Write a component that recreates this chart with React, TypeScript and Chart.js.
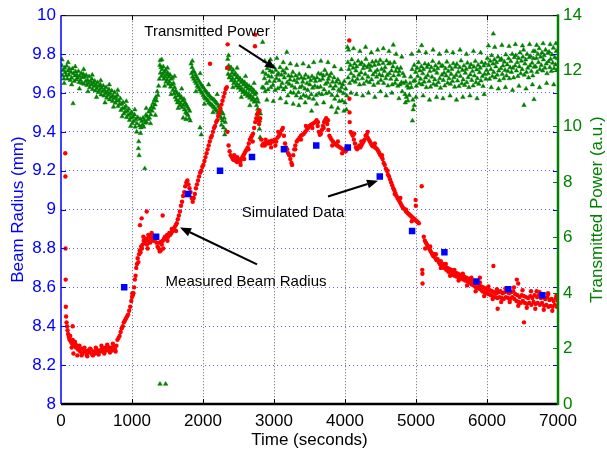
import React, { useEffect, useRef } from "react";
import { Chart, registerables } from "chart.js";

Chart.register(...registerables);

// ---------- DATA ----------
const timeTicks = [0, 1000, 2000, 3000, 4000, 5000, 6000, 7000];
const radiusTicks = [8, 8.2, 8.4, 8.6, 8.8, 9, 9.2, 9.4, 9.6, 9.8, 10];
const powerTicks = [0, 2, 4, 6, 8, 10, 12, 14];

const simulatedTimes = [890, 1340, 1790, 2240, 2690, 3140, 3595, 4040, 4490, 4945, 5400, 5850, 6300, 6780];
const simulatedRadius = [8.60, 8.86, 9.08, 9.20, 9.27, 9.31, 9.33, 9.32, 9.17, 8.89, 8.78, 8.63, 8.59, 8.56];

const measuredRadius: [number, number][] = [
  [60,9.29],[62,9.17],[64,8.80],[66,8.64],[68,8.50],
  [72,8.45],[78,8.42],[85,8.40],[92,8.38],[100,8.36],[110,8.345],[120,8.33],[130,8.35],[140,8.32],[155,8.31],[165,8.33],[165,8.40],[180,8.30],[195,8.32],[210,8.29],[225,8.30],[240,8.28],[255,8.295],[270,8.27],[285,8.285],[300,8.26],[320,8.28],[340,8.27],[360,8.255],[380,8.275],[400,8.265],[420,8.28],[440,8.255],[460,8.27],[480,8.26],[500,8.28],[520,8.265],[540,8.275],[560,8.27],[580,8.285],[600,8.27],[620,8.29],[640,8.275],[660,8.295],[680,8.28],[700,8.29],[720,8.275],[740,8.295],[760,8.28],[780,8.30],
  [150,8.29],[175,8.26],[200,8.31],[230,8.25],[260,8.30],[290,8.25],[330,8.29],[370,8.245],[410,8.285],[450,8.25],[490,8.29],[530,8.255],[570,8.30],[610,8.26],[650,8.305],[690,8.265],[730,8.31],[770,8.27],
  [795,8.33],[810,8.34],[825,8.35],[840,8.37],[855,8.39],[870,8.40],[885,8.42],[900,8.43],[915,8.44],[930,8.45],[945,8.46],[960,8.48],[975,8.50],[990,8.53],[1000,8.55],[1005,8.57],[1010,8.56],[1020,8.57],[1030,8.60],[1040,8.64],[1050,8.66],[1060,8.70],[1070,8.72],[1080,8.75],[1090,8.73],[1100,8.77],[1110,8.79],[1113,8.92],[1120,8.78],[1130,8.81],[1136,8.955],[1140,8.80],[1150,8.82],[1165,8.84],[1180,8.83],[1195,8.85],[1207,8.99],[1210,8.82],[1225,8.84],[1230,8.87],[1240,8.86],[1255,8.83],[1270,8.85],[1277,8.88],[1285,8.87],[1300,8.84],[1315,8.86],[1330,8.85],[1345,8.83],[1360,8.81],[1375,8.80],[1390,8.785],[1405,8.79],[1410,8.835],[1420,8.82],[1432,8.97],[1435,8.84],[1450,8.85],[1465,8.86],[1480,8.85],[1495,8.87],[1510,8.86],[1525,8.88],[1540,8.87],[1555,8.88],[1570,8.89],[1585,8.90],[1600,8.91],[1615,8.92],[1630,8.93],[1645,8.95],[1660,8.97],[1675,8.99],[1690,9.02],[1705,9.04],[1720,9.07],[1735,9.09],[1750,9.12],[1765,9.14],[1780,9.15],[1795,9.13],[1810,9.11],[1825,9.09],[1840,9.06],[1855,9.04],[1870,9.06],[1885,9.08],[1900,9.11],[1915,9.13],[1930,9.15],[1945,9.17],[1960,9.19],[1975,9.20],[1990,9.22],[2005,9.23],[2020,9.25],[2035,9.27],[2050,9.29],[2065,9.31],[2080,9.33],[2095,9.35],[2099,9.75],[2110,9.37],[2125,9.38],[2140,9.40],[2155,9.42],[2170,9.43],[2185,9.45],[2200,9.46],[2215,9.48],[2230,9.50],[2245,9.52],[2260,9.54],[2275,9.56],[2290,9.58],[2305,9.60],[2320,9.62],[2335,9.63],[2342,9.73],[2347,9.85],
  [1160,8.86],[1220,8.80],[1260,8.87],[1350,8.86],[1380,8.83],[1440,8.80],[1500,8.84],[1560,8.90],[1620,8.89],
  [2345,9.40],[2360,9.33],[2375,9.30],[2390,9.28],[2405,9.27],[2420,9.26],[2435,9.255],[2450,9.26],[2465,9.25],[2480,9.245],[2495,9.26],[2510,9.25],[2525,9.245],[2540,9.26],[2555,9.27],[2570,9.28],[2585,9.29],[2600,9.30],[2615,9.31],[2630,9.32],[2645,9.34],[2660,9.36],[2675,9.37],[2690,9.38],[2705,9.39],[2720,9.42],[2732,9.84],[2735,9.45],[2736,9.90],[2750,9.47],[2765,9.49],[2780,9.50],[2785,9.46],[2790,9.44],[2795,9.51],[2805,9.47],
  [2440,9.28],[2480,9.27],[2530,9.23],[2580,9.26],[2640,9.31],[2700,9.35],
  [2820,9.36],[2835,9.33],[2850,9.34],[2870,9.33],[2890,9.345],[2910,9.34],[2930,9.35],[2950,9.34],[2970,9.355],[2990,9.35],[3010,9.36],[3030,9.35],[3050,9.37],[3070,9.38],[3090,9.39],[3110,9.41],[3125,9.42],[3140,9.38],[3155,9.34],[3170,9.32],[3185,9.31],[3200,9.29],[3215,9.28],[3230,9.26],[3245,9.24],[3255,9.23],[3270,9.28],[3285,9.31],[3300,9.33],[3320,9.35],[3340,9.36],[3360,9.37],[3380,9.38],[3400,9.385],[3420,9.39],[3440,9.40],[3460,9.41],[3480,9.42],[3500,9.43],[3520,9.435],[3540,9.44],[3560,9.445],[3580,9.45],[3600,9.46],[3615,9.43],[3630,9.40],[3645,9.385],[3660,9.39],[3675,9.41],[3690,9.43],[3705,9.45],[3720,9.46],[3735,9.47],[3750,9.44],[3765,9.41],[3780,9.38],[3795,9.37],[3810,9.36],[3830,9.35],[3850,9.34],[3870,9.335],[3890,9.33],[3910,9.325],[3930,9.32],[3950,9.315],[3970,9.31],[3990,9.305],[4010,9.30],[4030,9.31],[4050,9.32],
  [2880,9.36],[2960,9.32],[3020,9.33],[3060,9.40],[3300,9.31],[3380,9.36],[3450,9.43],[3540,9.42],[3620,9.45],[3700,9.42],[3760,9.46],[3820,9.33],[3900,9.35],[3960,9.29],[4020,9.32],
  [4060,9.87],[4062,9.57],[4064,9.50],[4066,9.45],
  [4080,9.40],[4095,9.39],[4110,9.38],[4125,9.36],[4140,9.34],[4155,9.32],[4170,9.31],[4185,9.32],[4200,9.33],[4215,9.32],[4230,9.33],[4245,9.34],[4260,9.35],[4275,9.36],[4290,9.38],[4305,9.385],[4320,9.37],[4335,9.36],[4350,9.35],[4365,9.34],[4380,9.33],[4395,9.325],[4410,9.33],[4425,9.32],[4440,9.315],[4455,9.31],[4470,9.30],[4485,9.29],[4500,9.28],[4515,9.27],[4530,9.26],[4545,9.24],[4560,9.23],[4575,9.21],[4590,9.20],[4605,9.18],[4620,9.17],[4635,9.155],[4650,9.14],[4665,9.125],[4680,9.11],[4695,9.10],[4710,9.085],[4725,9.07],[4740,9.06],[4755,9.05],[4770,9.04],[4785,9.03],[4800,9.02],[4815,9.01],[4830,9.005],[4845,9.00],[4860,8.99],[4875,8.985],[4890,8.98],[4905,8.975],[4920,8.97],[4935,8.965],[4950,8.96],[4965,8.955],[4980,8.95],[4995,8.945],[5010,8.94],[5025,8.935],[5040,8.93],
  [4130,9.39],[4230,9.35],[4320,9.40],[4420,9.34],[4520,9.28],[4600,9.20],[4700,9.08],[4780,9.06],[4860,9.00],[4940,8.94],
  [4995,9.05],[4998,9.02],[5080,9.12],[5088,8.69],[5090,8.67],[5092,8.62],
  [5110,8.86],[5125,8.84],[5140,8.83],[5155,8.82],[5170,8.81],[5185,8.80],[5200,8.79],[5215,8.78],[5230,8.77],[5245,8.76],[5260,8.77],[5275,8.75],[5290,8.74],[5305,8.745],[5320,8.73],[5335,8.72],[5350,8.735],[5365,8.71],[5380,8.72],[5395,8.70],[5410,8.71],[5425,8.69],[5440,8.70],[5455,8.68],[5470,8.695],[5485,8.675],[5500,8.69],[5515,8.665],[5530,8.68],[5545,8.66],[5560,8.675],[5575,8.655],[5590,8.67],[5605,8.65],[5620,8.665],[5635,8.645],[5650,8.66],[5665,8.64],[5680,8.655],[5695,8.635],[5710,8.65],[5725,8.63],[5740,8.645],[5755,8.625],[5770,8.64],[5785,8.615],[5800,8.63],[5815,8.61],[5830,8.625],[5845,8.60],[5860,8.62],[5875,8.595],[5890,8.61],[5900,8.65],[5905,8.59],[5920,8.605],[5935,8.58],[5950,8.60],[5965,8.575],[5980,8.595],[5995,8.57],[6010,8.59],[6025,8.565],[6040,8.585],[6055,8.56],[6070,8.58],[6085,8.555],[6090,8.71],[6100,8.575],[6115,8.55],[6130,8.57],[6145,8.545],[6150,8.49],[6160,8.575],[6175,8.55],[6190,8.58],[6205,8.545],[6220,8.57],[6235,8.54],[6250,8.575],[6265,8.55],[6280,8.58],[6295,8.545],[6310,8.57],[6325,8.54],[6340,8.575],[6355,8.55],[6370,8.58],[6385,8.54],[6400,8.565],[6415,8.53],[6420,8.64],[6430,8.56],[6440,8.62],[6445,8.525],[6460,8.55],[6475,8.52],[6490,8.56],[6505,8.53],[6520,8.555],[6521,8.42],[6535,8.52],[6550,8.55],[6565,8.515],[6580,8.545],[6595,8.52],[6610,8.555],[6625,8.51],[6640,8.545],[6655,8.525],[6670,8.56],[6685,8.515],[6700,8.58],[6705,8.55],[6715,8.52],[6730,8.56],[6745,8.51],[6760,8.545],[6775,8.52],[6790,8.55],[6805,8.505],[6820,8.54],[6835,8.51],[6850,8.55],[6860,8.57],[6865,8.50],[6880,8.535],[6895,8.505],[6910,8.54],[6925,8.50],[6940,8.53],[6955,8.51],[6970,8.545],[6985,8.50],[7000,8.53],
  [5130,8.80],[5200,8.81],[5280,8.77],[5350,8.70],[5420,8.72],[5480,8.66],[5540,8.69],[5600,8.635],[5660,8.67],[5720,8.61],[5780,8.65],[5840,8.58],[5900,8.625],[5960,8.555],[6020,8.605],[6080,8.54],[6140,8.59],[6200,8.525],[6260,8.595],[6320,8.525],[6380,8.60],[6440,8.505],[6500,8.585],[6560,8.495],[6620,8.58],[6680,8.49],[6740,8.575],[6800,8.485],[6860,8.565],[6920,8.48],[6980,8.56]
];

const transmittedPower: [number, number][] = [
  [10,12.19],[20,11.83],[30,12.02],[40,11.71],[50,12.10],[60,11.94],[70,11.83],[80,12.17],[90,11.71],[100,12.00],[110,11.85],[120,12.07],[130,11.66],[140,11.95],[150,11.74],[160,12.07],[170,10.82],[175,11.9],[185,11.62],[195,11.82],[205,11.97],[215,11.68],[225,11.85],[235,11.74],[245,11.98],[255,11.58],[265,11.80],[275,11.66],[285,11.91],[295,11.55],[305,11.76],[315,11.88],[325,11.52],[335,11.78],[345,11.62],[355,11.84],[365,11.48],[375,11.66],[385,11.55],[395,11.79],[405,11.40],[415,11.62],[425,11.50],[435,11.70],[445,11.33],[455,11.56],[465,11.44],[475,11.63],[485,11.28],[495,11.48],[505,11.36],[515,11.58],[525,11.22],[535,11.44],[545,11.30],[555,11.50],[565,11.14],[575,11.38],[585,11.25],[595,11.46],[605,11.10],[615,11.30],[625,11.18],[635,11.40],[645,11.02],[655,11.24],[665,11.12],[675,11.33],[685,10.96],[695,11.18],[705,11.05],[715,11.28],[725,10.90],[735,11.10],[745,11.00],[755,11.22],[765,10.84],[775,11.05],[785,10.92],[795,11.12],[805,10.72],[815,10.92],[825,10.80],[835,11.00],[845,10.58],[855,10.80],[865,10.64],[875,10.86],[885,10.45],[895,10.66],[905,10.52],[915,10.72],[925,10.32],[935,10.55],[945,10.40],[955,10.62],[965,10.22],[975,10.44],[985,10.30],[995,10.50],[1005,10.10],[1015,10.34],[1025,10.18],[1035,10.42],[1045,9.98],[1055,10.25],[1066,9.80],[1070,10.10],[1080,10.32],[1090,9.20],[1095,9.45],[1100,8.95],[1105,10.02],[1115,10.26],[1125,9.95],[1135,10.18],[1145,10.05],[1155,10.30],[1165,9.98],[1175,10.22],[1180,8.48],[1185,10.12],[1195,10.40],[1205,10.15],[1215,10.35],[1225,10.25],[1235,10.52],[1245,10.30],[1255,10.60],[1265,10.42],[1275,10.70],[1285,10.55],[1295,10.82],[1305,10.66],[1315,10.95],[1325,10.78],[1335,11.05],[1345,10.92],[1355,11.25],[1365,11.12],[1375,11.45],[1385,11.70],
  [15,12.40],[45,11.55],[100,12.30],[150,11.50],[200,12.15],[260,11.35],[320,12.05],[380,11.25],[440,11.85],[500,11.05],[560,11.65],[620,10.85],[680,11.50],[740,10.70],[800,11.30],[860,10.35],[920,10.90],[980,10.00],[1040,10.60],[1120,9.75],[1200,10.65],[1260,10.10],[1330,10.40],
  [1392,12.20],[1396,12.37],[1400,11.92],[1408,12.12],[1416,11.80],[1424,12.05],[1432,11.88],[1440,12.15],[1448,11.70],[1456,11.95],[1464,11.78],[1472,12.02],[1480,11.60],[1488,11.85],[1496,11.68],[1504,11.92],[1512,11.52],[1520,11.78],[1528,11.60],[1536,11.85],[1544,11.42],[1552,11.70],[1560,11.50],[1568,11.74],[1576,11.30],[1584,11.55],[1592,11.18],[1600,11.40],[1608,11.05],[1616,11.28],[1624,10.95],[1632,11.20],[1640,10.85],[1648,11.10],[1656,10.90],[1664,11.15],[1672,10.75],[1680,11.00],[1688,10.82],[1696,11.05],[1704,10.68],[1712,10.92],[1720,10.30],[1724,10.75],[1732,10.98],[1740,10.60],[1748,10.85],[1756,10.50],[1764,10.78],[1772,10.45],[1780,10.70],[1788,10.40],[1796,10.62],[1804,10.28],[1812,10.55],[1820,10.20],
  [1420,12.40],[1460,11.45],[1500,12.10],[1550,11.15],[1600,11.80],[1650,10.65],[1700,11.35],[1760,10.25],
  [1832,12.25],[1838,11.90],[1846,12.12],[1854,11.78],[1862,12.00],[1870,11.70],[1878,11.95],[1886,11.62],[1894,11.85],[1902,11.55],[1910,11.78],[1918,11.45],[1926,11.70],[1934,11.40],[1942,11.62],[1950,11.32],[1958,9.95],[1962,11.55],[1970,11.25],[1975,9.70],[1978,11.48],[1986,11.20],[1994,11.42],[2002,11.12],[2010,11.38],[2018,11.05],[2026,11.30],[2034,11.00],[2042,11.25],[2050,10.98],[2058,11.20],[2066,10.92],[2074,11.15],[2082,10.85],[2090,11.10],[2098,10.82],[2106,11.05],[2114,10.78],[2122,11.00],[2130,10.75],[2138,10.98],[2146,10.70],[2154,10.95],[2162,10.66],[2170,10.90],[2178,10.60],[2186,10.85],[2194,10.55],[2202,10.80],[2210,10.48],[2218,10.72],[2226,10.42],[2234,10.65],[2242,10.35],[2250,10.58],[2258,10.28],[2266,10.50],[2274,10.20],[2282,10.45],[2290,9.95],[2298,10.30],[2306,9.70],[2314,10.15],[2322,9.85],
  [1850,12.35],[1900,11.25],[1960,11.90],[2020,10.80],[2080,11.50],[2140,10.50],[2200,11.15],[2260,10.05],
  [2342,12.10],[2348,12.42],[2354,11.88],[2362,12.18],[2370,11.75],[2378,12.05],[2386,11.82],[2394,12.12],[2402,11.65],[2410,11.92],[2418,11.72],[2426,12.02],[2434,11.55],[2442,11.85],[2450,11.62],[2458,11.90],[2466,11.45],[2474,11.75],[2482,11.52],[2490,11.80],[2498,11.38],[2506,11.66],[2514,11.45],[2522,11.72],[2530,11.30],[2538,11.58],[2546,11.36],[2554,11.64],[2562,11.22],[2570,11.50],[2578,11.28],[2586,11.58],[2594,11.15],[2602,11.42],[2610,11.22],[2618,11.50],[2626,11.08],[2634,11.35],[2642,11.15],[2650,11.45],[2658,11.02],[2666,11.30],[2674,11.10],[2682,11.38],[2690,10.95],[2698,11.22],[2706,11.02],[2714,11.30],[2722,10.88],[2730,11.15],[2738,10.92],[2746,11.20],[2754,10.75],[2762,11.00],[2770,10.62],[2778,10.88],[2784,10.30],[2790,10.55],[2795,9.90],[2800,10.20],[2805,9.60],[2810,10.45],
  [2360,12.55],[2420,11.40],[2480,12.10],[2540,11.05],[2600,11.80],[2660,10.75],[2720,11.55],[2760,10.45],
  [2835,11.40],[2840,13.03],[2845,11.95],[2855,11.38],[2865,11.72],[2875,11.25],[2885,11.88],[2895,11.55],[2905,12.08],[2915,11.32],[2925,11.80],[2935,11.62],[2945,12.00],[2955,11.40],[2965,11.78],[2975,11.95],[2985,11.48],[2995,12.15],[3005,11.62],[3015,11.30],[3025,12.02],[3035,11.72],[3045,11.85],[3055,11.36],[3065,11.90],[3075,11.65],[3085,12.12],[3095,11.42],[3105,11.85],[3115,11.55],[3125,12.00],[3135,11.32],[3145,11.75],[3155,11.92],[3165,11.40],[3175,12.08],[3180,12.67],[3185,11.58],[3195,11.10],[3205,11.82],[3215,11.52],[3225,11.68],[3235,11.22],[3245,11.80],[3255,11.45],[3265,11.95],[3275,11.20],[3285,11.65],[3295,11.38],[3305,11.82],[3315,11.10],[3325,11.58],[3335,11.72],[3345,11.22],[3355,11.88],[3365,11.40],[3375,11.02],[3385,11.75],[3395,11.44],[3405,11.60],[3415,11.12],[3425,11.72],[3435,11.35],[3445,11.85],[3455,11.08],[3465,11.55],[3475,11.30],[3485,11.76],[3495,11.02],[3505,11.50],[3515,11.65],[3525,11.15],[3530,10.55],[3535,11.80],[3545,11.38],[3555,10.98],[3565,11.72],[3575,11.45],[3585,11.62],[3595,11.12],[3605,11.75],[3615,11.40],[3625,11.90],[3635,11.18],[3645,11.65],[3655,11.42],[3665,11.88],[3675,11.15],[3685,11.70],[3695,11.82],[3705,11.32],[3715,12.02],[3725,11.52],[3735,11.18],[3745,11.88],[3755,11.58],[3765,11.70],[3775,11.22],[3785,11.80],[3795,11.45],[3805,11.90],[3815,11.12],[3825,11.60],[3835,11.35],[3845,11.75],[3855,10.98],[3865,11.45],[3875,10.50],[3880,11.60],[3890,11.10],[3900,11.68],[3910,11.30],[3920,10.90],[3930,11.55],[3940,11.25],[3950,11.40],[3960,10.92],[3970,11.50],[3980,11.18],[3990,11.62],[4000,10.85],[4010,11.35],[4020,10.60],[4025,11.10],
  [2870,12.35],[2900,10.95],[2950,12.40],[2990,10.90],[3040,12.45],[3090,11.00],[3130,12.30],[3170,10.85],[3230,12.25],[3270,10.80],[3320,12.20],[3350,10.75],[3410,12.25],[3440,10.85],[3490,12.15],[3560,12.30],[3600,10.80],[3660,12.35],[3700,10.85],[3760,12.30],[3810,10.70],[3850,12.15],[3900,10.65],[3945,12.05],[3985,10.55],
  [4035,12.85],[4040,12.30],[4045,11.75],[4055,12.05],[4065,11.55],[4075,12.20],[4085,11.90],[4095,12.40],[4105,11.65],[4115,12.10],[4125,11.80],[4135,12.25],[4145,11.60],[4155,12.00],[4165,12.15],[4175,11.70],[4185,12.35],[4195,11.85],[4205,11.50],[4215,12.23],[4225,11.93],
  [4235,12.28],[4245,11.72],[4255,12.08],[4265,11.52],[4275,12.18],[4285,11.88],[4295,12.42],[4305,11.62],[4315,12.12],[4325,11.78],[4335,12.22],[4345,11.58],[4355,12.02],[4365,12.16],[4375,11.68],[4385,12.32],[4395,11.86],[4405,11.48],[4415,12.20],[4425,11.95],
  [4435,12.34],[4445,11.78],[4455,12.02],[4465,11.56],[4475,12.24],[4485,11.86],[4495,12.38],[4505,11.66],[4515,12.06],[4525,11.82],[4535,12.27],[4545,11.55],[4555,11.98],[4565,12.12],[4575,11.72],[4585,12.36],[4595,11.84],[4605,11.46],[4615,12.25],[4625,11.90],
  [4635,12.28],[4645,11.70],[4655,12.00],[4665,11.50],[4675,12.15],[4680,12.93],[4685,11.82],[4695,12.30],[4705,11.55],[4715,11.98],[4725,11.68],[4735,12.10],[4745,11.45],[4755,11.85],[4765,11.98],[4775,11.50],[4785,12.10],[4795,11.58],[4805,11.25],[4815,11.90],[4825,11.55],[4835,11.80],[4845,11.15],[4855,11.60],[4865,11.05],[4875,11.45],[4885,10.92],[4895,11.38],[4905,11.12],[4915,11.55],
  [4050,12.75],[4085,11.20],[4120,12.80],[4160,11.15],[4210,12.70],[4250,11.10],[4290,12.85],[4330,11.20],[4370,12.65],[4420,11.05],[4460,12.75],[4500,11.25],[4540,12.80],[4580,11.10],[4620,12.70],[4660,11.20],[4720,12.60],[4760,11.00],[4800,12.50],[4850,10.85],
  [4950,10.2],[4955,10.95],[4960,10.6],[4975,10.75],
  [4925,11.78],[4935,11.40],[4945,12.05],[4965,11.62],[4975,12.20],[4985,11.65],[4995,11.95],[5005,11.45],[5015,12.10],[5025,11.80],[5035,12.30],[5045,11.55],[5055,12.00],[5065,11.70],[5075,12.15],[5080,12.91],[5085,11.50],[5095,11.90],[5105,12.05],[5115,11.60],[5125,12.25],[5135,11.75],[5145,11.40],[5155,12.13],[5165,11.83],
  [5175,12.22],[5185,11.62],[5195,11.98],[5205,11.42],[5215,12.12],[5225,11.78],[5235,12.34],[5245,11.52],[5255,12.02],[5265,11.68],[5275,12.18],[5285,11.48],[5295,11.92],[5305,12.08],[5315,11.58],[5325,12.28],[5335,11.72],[5345,11.38],[5355,12.16],[5365,11.85],
  [5375,12.18],[5385,11.66],[5395,11.92],[5405,11.46],[5415,12.08],[5425,11.82],[5435,12.32],[5445,11.56],[5455,11.98],[5465,11.72],[5475,12.16],[5485,11.52],[5495,11.88],[5505,12.06],[5515,11.62],[5525,12.26],[5535,11.76],[5545,11.42],[5555,12.14],[5565,11.84],
  [5575,12.24],[5585,11.64],[5595,11.96],[5605,11.44],[5615,12.12],[5625,11.80],[5635,12.36],[5645,11.54],[5655,12.02],[5665,11.68],[5675,12.18],[5685,11.48],[5695,11.92],[5705,12.06],[5715,11.58],[5725,12.28],[5735,11.76],[5745,11.40],[5755,12.12],[5765,11.86],
  [5775,12.22],[5785,11.66],[5795,11.98],[5805,11.46],[5815,12.14],[5825,11.82],[5835,12.34],[5845,11.58],[5855,12.04],[5865,11.72],[5875,12.20],[5885,11.52],[5895,11.94],[5905,12.10],[5915,11.64],[5925,12.30],[5935,11.80],[5945,11.44],[5955,12.18],[5965,11.88],[5975,12.26],[5985,11.70],[5995,12.02],
  [4940,12.60],[5000,11.05],[5040,12.70],[5100,11.10],[5140,12.65],[5190,10.95],[5240,12.75],[5290,11.05],[5330,12.60],[5380,11.00],[5430,12.70],[5480,11.10],[5520,12.65],[5570,10.95],[5620,12.75],[5660,11.05],[5710,12.60],[5760,11.10],[5810,12.70],[5860,11.00],[5910,12.65],[5960,11.15],
  [6005,12.45],[6015,11.90],[6025,12.20],[6035,11.70],[6045,12.35],[6055,12.05],[6065,12.55],[6075,11.80],[6085,12.25],[6089,13.33],[6095,11.95],[6105,12.40],[6115,11.75],[6125,12.15],[6135,12.30],[6145,11.85],[6155,12.50],[6165,12.00],[6175,11.65],[6185,12.38],[6195,12.08],
  [6205,12.42],[6215,11.88],[6225,12.18],[6235,11.72],[6245,12.32],[6255,12.02],[6265,12.58],[6275,11.82],[6285,12.22],[6295,11.98],[6305,12.44],[6315,11.72],[6325,12.12],[6335,12.34],
  [6345,11.95],[6355,12.60],[6365,12.10],[6375,11.75],[6385,12.48],[6395,12.18],[6405,12.55],[6415,12.00],[6425,12.30],[6435,11.80],[6445,12.45],[6455,12.15],[6465,12.65],[6475,11.90],[6485,12.35],[6495,12.05],[6505,12.50],[6515,12.75],[6521,10.76],[6525,11.85],[6535,12.25],[6545,12.40],[6555,11.95],[6565,12.60],[6575,12.10],[6585,11.75],[6595,12.48],[6605,12.18],[6615,12.52],[6625,11.98],[6635,12.28],[6645,11.82],[6650,12.70],[6655,12.44],[6662,10.97],[6665,12.14],
  [6675,12.70],[6685,12.15],[6695,12.45],[6705,11.95],[6715,12.60],[6725,12.30],[6735,12.80],[6745,12.05],[6755,12.50],[6765,12.20],[6775,12.65],[6785,12.00],[6795,12.40],[6805,12.55],[6815,12.10],[6825,12.75],[6835,12.25],[6845,11.90],[6855,12.63],[6865,12.33],[6875,12.68],[6885,12.12],[6895,12.42],[6905,11.98],[6915,12.58],[6925,12.28],[6935,12.82],[6945,12.08],[6955,12.48],[6965,12.22],[6975,12.70],[6985,12.02],[6995,12.45],
  [6020,12.90],[6060,11.40],[6110,12.85],[6160,11.35],[6210,12.92],[6260,11.40],[6310,12.88],[6360,11.30],[6400,12.95],[6450,11.45],[6500,12.90],[6550,11.35],[6600,12.95],[6640,11.50],[6700,12.92],[6740,11.40],[6790,12.98],[6840,11.55],[6890,12.95],[6940,11.50],[6970,12.98],
  [1394,0.72],[1474,0.72]
];

// annotations: label, text anchor (time, radius), arrow start and tip (time, radius)
const annotationLabels = ["Transmitted Power", "Simulated Data", "Measured Beam Radius"];
const annotationText: [number, number][] = [[2056, 9.913], [3268, 8.985], [2606, 8.63]];
const arrowFrom: [number, number][] = [[2507, 9.846], [3761, 9.067], [2761, 8.718]];
const arrowTo: [number, number][] = [[3028, 9.723], [4465, 9.149], [1676, 8.908]];

const FONT = "'Liberation Sans', Arial, Helvetica, sans-serif";
const BLUE = "#0000ff";
const GREEN = "#008000";

const overlayPlugin = {
  id: "overlay",
  afterDatasetsDraw(chart: any) {
    const { ctx, chartArea: a, scales } = chart;
    const x = scales.x, y = scales.y, y1 = scales.y1;
    ctx.save();
    ctx.setLineDash([]);
    // tick marks (inward)
    ctx.lineWidth = 1;
    ctx.strokeStyle = "#000";
    timeTicks.forEach((t) => {
      if (t === 0 || t === 7000) return;
      const px = Math.round(x.getPixelForValue(t)) + 0.5;
      ctx.beginPath();
      ctx.moveTo(px, a.bottom); ctx.lineTo(px, a.bottom - 5);
      ctx.moveTo(px, a.top); ctx.lineTo(px, a.top + 5);
      ctx.stroke();
    });
    ctx.strokeStyle = BLUE;
    radiusTicks.forEach((v) => {
      const py = Math.round(y.getPixelForValue(v)) + 0.5;
      ctx.beginPath();
      ctx.moveTo(a.left, py); ctx.lineTo(a.left + 5, py);
      ctx.moveTo(a.right, py); ctx.lineTo(a.right - 5, py);
      ctx.stroke();
    });
    ctx.strokeStyle = GREEN;
    powerTicks.forEach((v) => {
      const py = Math.round(y1.getPixelForValue(v)) + 0.5;
      ctx.beginPath();
      ctx.moveTo(a.right, py); ctx.lineTo(a.right - 5, py);
      ctx.stroke();
    });
    // borders
    ctx.strokeStyle = "#000";
    ctx.lineWidth = 1;
    ctx.beginPath(); ctx.moveTo(a.left, a.top + 0.5); ctx.lineTo(a.right, a.top + 0.5); ctx.stroke();
    ctx.lineWidth = 2.5;
    ctx.beginPath(); ctx.moveTo(a.left, a.bottom); ctx.lineTo(a.right, a.bottom); ctx.stroke();
    ctx.strokeStyle = BLUE;
    ctx.lineWidth = 1.5;
    ctx.beginPath(); ctx.moveTo(a.left, a.top); ctx.lineTo(a.left, a.bottom); ctx.stroke();
    ctx.strokeStyle = GREEN;
    ctx.lineWidth = 2.5;
    ctx.beginPath(); ctx.moveTo(a.right, a.top - 1); ctx.lineTo(a.right, a.bottom + 1); ctx.stroke();

    // annotations
    ctx.fillStyle = "#000";
    ctx.strokeStyle = "#000";
    ctx.font = `15px ${FONT}`;
    ctx.textAlign = "center";
    ctx.textBaseline = "middle";
    annotationLabels.forEach((label, i) => {
      ctx.fillText(label, x.getPixelForValue(annotationText[i][0]), y.getPixelForValue(annotationText[i][1]));
      const x0 = x.getPixelForValue(arrowFrom[i][0]), y0 = y.getPixelForValue(arrowFrom[i][1]);
      const x1 = x.getPixelForValue(arrowTo[i][0]), y1p = y.getPixelForValue(arrowTo[i][1]);
      const ang = Math.atan2(y1p - y0, x1 - x0);
      const hl = 11, hw = 4.5;
      const bx = x1 - hl * Math.cos(ang), by = y1p - hl * Math.sin(ang);
      ctx.lineWidth = 2;
      ctx.beginPath(); ctx.moveTo(x0, y0); ctx.lineTo(bx, by); ctx.stroke();
      ctx.beginPath();
      ctx.moveTo(x1, y1p);
      ctx.lineTo(bx + hw * Math.sin(ang), by - hw * Math.cos(ang));
      ctx.lineTo(bx - hw * Math.sin(ang), by + hw * Math.cos(ang));
      ctx.closePath();
      ctx.fill();
    });

    // axis titles
    ctx.font = `17px ${FONT}`;
    ctx.fillStyle = "#000";
    ctx.fillText("Time (seconds)", (a.left + a.right) / 2, 440);
    const midY = (a.top + a.bottom) / 2;
    ctx.fillStyle = BLUE;
    ctx.save(); ctx.translate(18, midY); ctx.rotate(-Math.PI / 2); ctx.fillText("Beam Radius (mm)", 0, 0); ctx.restore();
    ctx.fillStyle = GREEN;
    ctx.save(); ctx.translate(597, midY); ctx.rotate(-Math.PI / 2); ctx.fillText("Transmitted Power (a.u.)", 0, 0); ctx.restore();
    ctx.restore();
  },
};

export default function App() {
  const ref = useRef<HTMLCanvasElement>(null);
  useEffect(() => {
    if (!ref.current) return;
    const chart = new Chart(ref.current, {
      type: "scatter",
      data: {
        datasets: [
          {
            label: "Simulated Data",
            data: simulatedTimes.map((t, i) => ({ x: t, y: simulatedRadius[i] })),
            yAxisID: "y",
            pointStyle: "rect",
            pointRadius: 4.6,
            backgroundColor: BLUE,
            borderColor: BLUE,
            borderWidth: 0,
          },
          {
            label: "Measured Beam Radius",
            data: measuredRadius.map(([t, r]) => ({ x: t, y: r })),
            yAxisID: "y",
            pointStyle: "circle",
            pointRadius: 2.2,
            backgroundColor: "#ff0000",
            borderColor: "#ff0000",
            borderWidth: 0,
          },
          {
            label: "Transmitted Power",
            data: transmittedPower.map(([t, p]) => ({ x: t, y: p })),
            yAxisID: "y1",
            pointStyle: "triangle",
            pointRadius: 2.6,
            backgroundColor: GREEN,
            borderColor: GREEN,
            borderWidth: 0.5,
          },
        ],
      },
      options: {
        responsive: false,
        animation: false,
        events: [],
        layout: { padding: { top: 13, left: 0, right: 0, bottom: 0 } },
        plugins: { legend: { display: false }, tooltip: { enabled: false } },
        scales: {
          x: {
            type: "linear",
            min: 0,
            max: 7000,
            afterBuildTicks: (s: any) => { s.ticks = timeTicks.map((v) => ({ value: v })); },
            afterFit: (s: any) => { s.height = 48; },
            border: { display: false, dash: [1, 2] },
            grid: {
              drawTicks: false,
              color: (c: any) => (c.tick && (c.tick.value === 0 || c.tick.value === 7000) ? "rgba(0,0,0,0)" : "#6a6a6a"),
              lineWidth: 1,
            },
            ticks: {
              color: "#000",
              font: { family: FONT, size: 17 },
              padding: 7,
              maxRotation: 0,
              autoSkip: false,
              callback: (v: any) => String(v),
            },
          },
          y: {
            type: "linear",
            position: "left",
            min: 8,
            max: 10,
            afterBuildTicks: (s: any) => { s.ticks = radiusTicks.map((v) => ({ value: v })); },
            afterFit: (s: any) => { s.width = 61; },
            border: { display: false, dash: [1, 3] },
            grid: {
              drawTicks: false,
              color: (c: any) => (c.tick && (c.tick.value === 8 || c.tick.value === 10) ? "rgba(0,0,0,0)" : "#5c5cff"),
              lineWidth: 1,
            },
            ticks: {
              color: BLUE,
              font: { family: FONT, size: 17 },
              padding: 5,
              autoSkip: false,
              callback: (v: any) => String(Math.round(Number(v) * 10) / 10),
            },
          },
          y1: {
            type: "linear",
            position: "right",
            min: 0,
            max: 14,
            afterBuildTicks: (s: any) => { s.ticks = powerTicks.map((v) => ({ value: v })); },
            afterFit: (s: any) => { s.width = 49; },
            border: { display: false },
            grid: { display: false, drawTicks: false },
            ticks: { color: GREEN, font: { family: FONT, size: 17 }, padding: 5, autoSkip: false },
          },
        },
      },
      plugins: [overlayPlugin],
    } as any);
    return () => chart.destroy();
  }, []);
  return (
    <div style={{ position: "fixed", left: 0, top: 0, width: 607, height: 452, background: "#fff" }}>
      <canvas ref={ref} width={607} height={452} style={{ display: "block", width: 607, height: 452 }} />
    </div>
  );
}
